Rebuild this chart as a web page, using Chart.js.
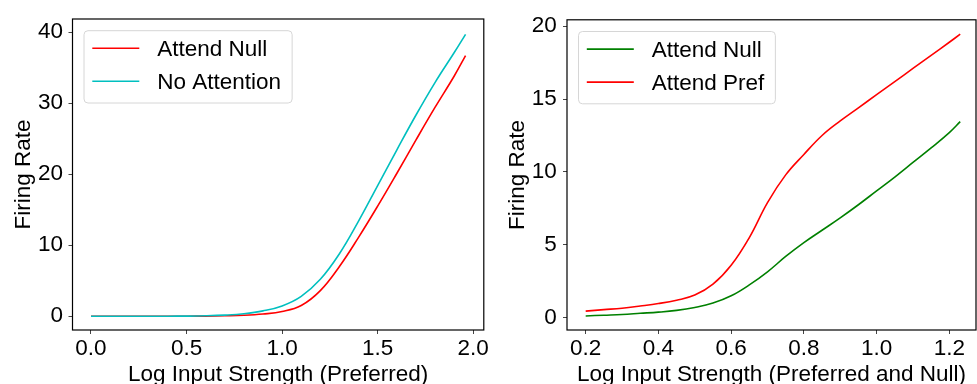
<!DOCTYPE html>
<html>
<head>
<meta charset="utf-8">
<script src="https://cdn.jsdelivr.net/npm/chart.js@4.4.1/dist/chart.umd.min.js"></script>
<style>
    html, body { margin: 0; padding: 0; background: #fff; overflow: hidden; }
    .panel { position: absolute; top: 0; height: 384px; }
    #leftPanel { left: 0; width: 490px; }
    #rightPanel { left: 490px; width: 487px; }
</style>
</head>
<body>
<div class="panel" id="leftPanel"><canvas id="leftChart"></canvas></div>
<div class="panel" id="rightPanel"><canvas id="rightChart"></canvas></div>
<script>
// Left panel: preferred input only
const leftX = [0.0, 0.1, 0.2, 0.3, 0.4, 0.5, 0.6, 0.7, 0.8, 0.9, 1.0, 1.1, 1.2, 1.3, 1.4, 1.5, 1.6, 1.7, 1.8, 1.9, 1.96];
const leftAttendNull = [0, 0, 0, 0, 0, 0, 0.01, 0.05, 0.12, 0.3, 0.65, 1.5, 3.6, 7.0, 11.1, 15.5, 20.1, 24.8, 29.4, 33.8, 36.7];
const leftNoAttention = [0, 0, 0, 0, 0, 0.01, 0.05, 0.15, 0.35, 0.75, 1.45, 2.8, 5.2, 8.8, 13.4, 18.4, 23.4, 28.3, 32.9, 37.1, 39.7];
const leftXTicks = [0.0, 0.5, 1.0, 1.5, 2.0];
const leftYTicks = [0, 10, 20, 30, 40];

// Right panel: preferred and null inputs together
const rightX = [0.20, 0.25, 0.30, 0.35, 0.40, 0.45, 0.50, 0.55, 0.60, 0.65, 0.70, 0.75, 0.80, 0.85, 0.90, 0.95, 1.00, 1.05, 1.10, 1.15, 1.20, 1.23];
const rightAttendNull = [0.12, 0.17, 0.22, 0.3, 0.38, 0.5, 0.7, 1.0, 1.5, 2.25, 3.15, 4.2, 5.15, 6.0, 6.85, 7.75, 8.7, 9.65, 10.65, 11.65, 12.7, 13.45];
const rightAttendPref = [0.45, 0.55, 0.65, 0.8, 0.97, 1.2, 1.55, 2.3, 3.6, 5.5, 7.9, 9.8, 11.2, 12.5, 13.5, 14.4, 15.3, 16.2, 17.1, 18.0, 18.9, 19.45];
const rightXTicks = [0.2, 0.4, 0.6, 0.8, 1.0, 1.2];
const rightYTicks = [0, 5, 10, 15, 20];

const FONT = 'Liberation Sans';
const FONT_SIZE = 22.5;

// box around the plot area, like matplotlib spines
const framePlugin = {
    id: 'frame',
    afterDatasetsDraw(chart) {
        const { left, right, top, bottom } = chart.chartArea;
        const ctx = chart.ctx;
        ctx.save();
        ctx.strokeStyle = '#000';
        ctx.lineWidth = 1.2;
        ctx.strokeRect(left, top, right - left, bottom - top);
        ctx.restore();
    }
};

// legend box drawn inside the plot area
const boxLegend = {
    id: 'boxLegend',
    afterDraw(chart, args, opts) {
        const ctx = chart.ctx;
        const area = chart.chartArea;
        const x = area.left + opts.dx;
        const y = area.top + opts.dy;
        ctx.save();
        ctx.font = `${FONT_SIZE}px "${FONT}"`;
        const datasets = chart.data.datasets;
        const textW = Math.max(...datasets.map(d => ctx.measureText(d.label).width));
        const w = 73.3 + textW + 11;
        const h = 72.3;
        ctx.beginPath();
        ctx.roundRect(x, y, w, h, 4);
        ctx.fillStyle = 'rgba(255,255,255,0.8)';
        ctx.fill();
        ctx.strokeStyle = '#d6d6d6';
        ctx.lineWidth = 1;
        ctx.stroke();
        datasets.forEach((ds, i) => {
            const rowY = y + 17.6 + i * 33;
            ctx.strokeStyle = ds.borderColor;
            ctx.lineWidth = ds.borderWidth;
            ctx.beginPath();
            ctx.moveTo(x + 8.3, rowY);
            ctx.lineTo(x + 55.3, rowY);
            ctx.stroke();
            ctx.fillStyle = '#000';
            ctx.textBaseline = 'middle';
            ctx.fillText(ds.label, x + 73.3, rowY + 1.2);
        });
        ctx.restore();
    }
};

function toPoints(xs, ys) {
    return xs.map((x, i) => ({ x: x, y: ys[i] }));
}

function lineSet(label, xs, ys, color, order) {
    return {
        label: label,
        data: toPoints(xs, ys),
        borderColor: color,
        backgroundColor: color,
        borderWidth: 1.6,
        pointRadius: 0,
        tension: 0.4,
        order: order
    };
}

function makeOptions(cfg) {
    const tickFont = { family: FONT, size: FONT_SIZE };
    return {
        responsive: true,
        maintainAspectRatio: false,
        animation: false,
        devicePixelRatio: 1,
        layout: { padding: { top: 15, right: cfg.padRight, left: 0, bottom: 0 } },
        plugins: {
            legend: { display: false },
            tooltip: { enabled: false },
            boxLegend: { dx: 11.5, dy: 11.7 }
        },
        scales: {
            x: {
                type: 'linear',
                min: cfg.xMin,
                max: cfg.xMax,
                afterBuildTicks: s => { s.ticks = cfg.xTicks.map(v => ({ value: v })); },
                afterFit: s => { s.height = 54; },
                grid: { drawOnChartArea: false, drawTicks: true, tickLength: 4, tickColor: '#444' },
                border: { display: false },
                ticks: { font: tickFont, color: '#000', padding: 1, maxRotation: 0, callback: v => v.toFixed(1) },
                title: {
                    display: true,
                    text: cfg.xTitle,
                    font: { family: FONT, size: FONT_SIZE, lineHeight: 1 },
                    color: '#000',
                    padding: { top: 0, bottom: -2 }
                }
            },
            y: {
                min: cfg.yMin,
                max: cfg.yMax,
                afterBuildTicks: s => { s.ticks = cfg.yTicks.map(v => ({ value: v })); },
                afterFit: s => { s.width = cfg.yWidth; },
                grid: { drawOnChartArea: false, drawTicks: true, tickLength: 4, tickColor: '#444' },
                border: { display: false },
                ticks: { font: tickFont, color: '#000', padding: cfg.yTickPad, callback: v => String(v) },
                title: {
                    display: true,
                    text: 'Firing Rate',
                    font: { family: FONT, size: FONT_SIZE, lineHeight: 1 },
                    color: '#000',
                    padding: { top: cfg.yTitlePad, bottom: 0 }
                }
            }
        }
    };
}

new Chart(document.getElementById('leftChart'), {
    type: 'line',
    data: {
        datasets: [
            lineSet('Attend Null', leftX, leftAttendNull, '#ff0000', 1),
            lineSet('No Attention', leftX, leftNoAttention, '#00bfbf', 0)
        ]
    },
    options: makeOptions({
        xMin: -0.0968, xMax: 2.0554, yMin: -1.947, yMax: 41.86,
        xTicks: leftXTicks, yTicks: leftYTicks,
        xTitle: 'Log Input Strength (Preferred)',
        yWidth: 72.5, yTickPad: 5.5, yTitlePad: 13, padRight: 6
    }),
    plugins: [framePlugin, boxLegend]
});

new Chart(document.getElementById('rightChart'), {
    type: 'line',
    data: {
        datasets: [
            lineSet('Attend Null', rightX, rightAttendNull, '#008000', 1),
            lineSet('Attend Pref', rightX, rightAttendPref, '#ff0000', 0)
        ]
    },
    options: makeOptions({
        xMin: 0.1486, xMax: 1.2734, yMin: -0.845, yMax: 20.44,
        xTicks: rightXTicks, yTicks: rightYTicks,
        xTitle: 'Log Input Strength (Preferred and Null)',
        yWidth: 77, yTickPad: 6.3, yTitlePad: 16.5, padRight: 1
    }),
    plugins: [framePlugin, boxLegend]
});
</script>
</body>
</html>
